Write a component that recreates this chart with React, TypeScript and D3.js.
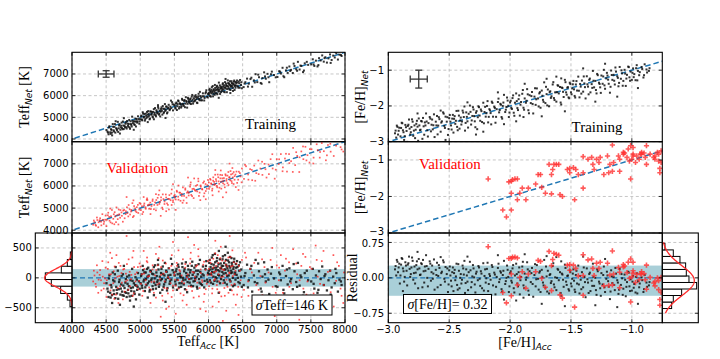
import React from "react";
import * as d3 from "d3";

type P = [number, number];

// ---------- tick labels ----------
const teffXTicks = [4000, 4500, 5000, 5500, 6000, 6500, 7000, 7500, 8000];
const teffYTicks = [4000, 5000, 6000, 7000];
const teffResTicks = [-500, 0, 500];
const fehXTicks = [-3.0, -2.5, -2.0, -1.5, -1.0];
const fehYTicks = [-3, -2, -1];
const fehResTicks = [-0.75, 0, 0.75];

// ---------- Teff training: [Teff_Acc, residual] ----------
const teffTrainA: P[] = [
  [4520,-180],[4535,-320],[4548,40],[4560,-250],[4572,-120],[4585,-290],[4597,90],[4610,-210],[4622,-60],[4635,-340],
  [4648,-150],[4660,-260],[4671,120],[4684,-190],[4696,-30],[4709,-280],[4721,-110],[4733,-230],[4746,60],[4758,-300],
  [4770,-170],[4782,-80],[4795,-250],[4807,20],[4820,-200],[4832,-140],[4844,-310],[4857,-40],[4869,-220],[4881,150],
  [4893,-160],[4906,-90],[4918,-270],[4930,10],[4943,-130],[4955,-200],[4967,80],[4980,-60],[4992,-180],[4588,-420],
  [4702,-450],[4850,-380],[4640,180],[4760,200],[4905,-480],
  [5005,-90],[5018,60],[5030,-170],[5042,130],[5055,-30],[5068,-220],[5080,90],[5092,-120],[5105,20],[5117,170],
  [5130,-60],[5142,-200],[5155,110],[5167,-10],[5180,-140],[5192,60],[5205,-80],[5217,210],[5230,-180],[5242,30],
  [5255,-40],[5267,140],[5280,-110],[5292,-250],[5305,80],[5317,-20],[5330,190],[5342,-150],[5355,40],[5367,-70],
  [5380,120],[5392,-210],[5405,0],[5417,160],[5430,-100],[5442,50],[5455,-30],[5467,230],[5480,-160],[5492,90],
  [5110,-330],[5260,300],[5370,-400],[5450,320],[5200,-290],
  [5505,40],[5518,-110],[5530,150],[5543,-30],[5555,220],[5568,-160],[5580,70],[5593,10],[5605,-90],[5618,180],
  [5630,-40],[5643,110],[5655,-190],[5668,260],[5680,30],[5693,-70],[5705,140],[5718,-20],[5730,90],[5743,-130],
  [5755,200],[5768,50],[5780,-60],[5793,170],[5805,-10],[5818,120],[5830,-150],[5843,60],[5855,230],[5868,-80],
  [5880,100],[5893,20],[5905,-120],[5918,190],[5930,40],[5943,-50],[5955,150],[5968,280],[5980,-30],[5993,80],
  [6003,120],[6012,250],[6021,-40],[6030,180],[6040,60],[6049,340],[6058,150],[6067,-100],[6076,220],[6085,90],
  [6094,400],[6103,10],[6112,170],[6121,280],[6130,-60],[6139,130],[6148,230],[6157,40],[6166,310],[6175,160],
  [6184,-20],[6193,200],[6202,100],[6211,360],[6220,70],[6229,250],[6238,-80],[6247,140],[6256,300],[6265,190],
  [6274,30],[6283,420],[6292,120],[6301,260],[6310,-30],[6319,170],[6328,80],[6337,330],[6346,210],[6355,0],
  [6364,150],[6373,270],[6382,-120],[6391,90],[6400,230],[6412,50],[6425,180],[6438,-70],[6450,120],[6463,260],
  [6476,20],[6489,-150],[6150,-250],[6250,520],[6320,-200],
  [6515,-120],[6540,80],[6565,220],[6590,-40],[6615,150],[6640,-230],[6665,40],[6690,300],[6715,-90],[6740,110],
  [6765,-180],[6790,20],[6815,260],[6840,-60],[6865,140],[6890,-270],[6915,70],[6960,-10],
  [7010,-150],[7035,90],[7060,-40],[7085,200],[7110,-260],[7135,30],[7160,-110],[7185,160],[7210,-20],[7235,-190],
  [7260,110],[7285,-70],[7310,250],[7335,-130],[7360,10],[7385,-300],[7410,80],[7460,-40],
  [7505,-60],[7528,150],[7551,-180],[7574,40],[7597,-250],[7620,110],[7643,-20],[7666,190],[7689,-120],[7712,60],
  [7735,-210],[7758,-40],[7781,120],[7804,-160],[7827,20],[7850,-90],[7873,80],[7896,-230],[7919,-30],[7950,-120],
];
const teffTrainB: P[] = [
  [4505,-90],[4528,-230],[4541,-10],[4566,-330],[4579,-160],[4603,-40],[4616,-270],[4628,60],[4655,-200],[4677,-350],
  [4690,-70],[4715,-180],[4727,30],[4740,-290],[4752,-130],[4776,-240],[4789,-20],[4801,-320],[4814,-100],[4826,-260],
  [4838,40],[4863,-170],[4875,-300],[4887,-50],[4912,-230],[4924,-120],[4937,-360],[4949,-30],[4961,-150],[4986,-280],
  [5012,30],[5024,-130],[5036,200],[5049,-60],[5061,90],[5074,-160],[5086,-20],[5099,150],[5111,-90],[5124,40],
  [5136,-230],[5149,120],[5161,-40],[5174,70],[5186,-190],[5199,180],[5211,-10],[5224,-120],[5236,90],[5249,-70],
  [5261,220],[5274,-150],[5286,20],[5299,-40],[5311,150],[5324,-200],[5336,60],[5349,-110],[5361,250],[5374,-30],
  [5386,100],[5399,-170],[5411,40],[5436,-60],[5474,130],
  [5512,-60],[5524,110],[5537,-200],[5549,60],[5561,180],[5574,-90],[5587,30],[5599,-150],[5612,240],[5624,0],
  [5637,-110],[5649,150],[5662,-30],[5674,80],[5687,-240],[5699,200],[5712,40],[5724,-80],[5737,130],[5749,-10],
  [5762,270],[5774,-140],[5787,90],[5799,-50],[5812,210],[5824,20],[5837,-180],[5849,120],[5862,-20],[5874,300],
  [5887,-100],[5912,60],[5937,-160],[5962,200],[5987,-70],
  [6007,60],[6016,300],[6025,140],[6035,-80],[6044,230],[6053,100],[6062,380],[6071,20],[6080,170],[6089,-50],
  [6098,260],[6107,130],[6116,-10],[6125,330],[6134,190],[6143,50],[6152,450],[6161,110],[6170,-90],[6179,240],
  [6188,160],[6197,30],[6206,310],[6215,200],[6224,-40],[6233,140],[6242,380],[6251,80],[6260,220],[6269,-110],
  [6278,160],[6287,290],[6296,40],[6305,200],[6314,350],[6323,-60],[6332,120],[6341,250],[6350,90],[6359,-140],
  [6368,180],[6377,320],[6386,60],[6395,-30],[6405,170],[6418,280],[6431,0],[6444,210],[6457,-90],[6480,140],
  [6528,30],[6578,-160],[6628,200],[6678,-70],[6728,240],[6778,-230],[6828,60],[6878,-30],[6928,180],[6985,-140],
  [7048,60],[7098,-200],[7148,140],[7198,-60],[7248,230],[7298,-150],[7348,40],[7398,-240],[7440,120],[7540,-100],
  [7610,-200],[7700,30],[7790,-280],[7860,150],[7940,-60],
];

// ---------- Teff validation: [Teff_Acc, residual] ----------
const teffValidA: P[] = [
  [4310,-60],[4330,40],[4352,-150],[4371,90],[4390,-30],[4412,130],[4430,-210],[4451,20],[4470,-90],[4492,170],
  [4510,-40],[4531,260],[4550,-120],[4571,60],[4590,-280],[4612,110],[4630,-10],[4651,380],[4670,-170],[4692,30],
  [4710,200],[4731,-80],[4750,140],[4771,-230],[4790,70],[4812,-40],[4830,310],[4851,-140],[4870,50],[4892,-300],
  [4910,180],[4931,-60],[4950,90],[4971,-190],[4990,240],[4800,700],[4560,420],[4680,-420],[4900,450],[4620,-350],
  [5010,-100],[5025,60],[5043,-220],[5060,150],[5078,-40],[5095,280],[5112,20],[5130,-160],[5147,100],[5165,-70],
  [5182,210],[5200,-250],[5217,40],[5235,130],[5252,-110],[5270,330],[5287,-20],[5305,180],[5322,-300],[5340,70],
  [5357,-60],[5375,240],[5392,-180],[5410,10],[5427,160],[5445,-90],[5462,380],[5480,-210],[5497,50],[5150,-420],
  [5280,520],[5420,-480],[5050,450],[5330,-380],[5460,-320],[5230,400],[5380,-520],[5100,340],[5480,600],[5300,-650],
  [5505,90],[5520,-130],[5538,200],[5555,-40],[5572,130],[5590,-260],[5607,40],[5625,310],[5642,-90],[5660,170],
  [5677,-200],[5695,60],[5712,-20],[5730,240],[5747,-150],[5765,100],[5782,-330],[5800,20],[5817,190],[5835,-80],
  [5852,360],[5870,-170],[5887,80],[5905,-40],[5922,220],[5940,-270],[5957,130],[5975,-100],[5992,280],[5560,460],
  [5680,-450],[5790,550],[5880,-520],[5620,-380],[5740,420],[5930,-400],[5850,480],[5520,-600],[5700,680],[5960,-560],
  [6005,150],[6018,-60],[6031,250],[6044,40],[6057,-180],[6070,320],[6083,100],[6096,-20],[6109,200],[6122,-120],
  [6135,380],[6148,60],[6161,-240],[6174,170],[6187,10],[6200,290],[6213,-90],[6226,130],[6239,-300],[6252,220],
  [6265,50],[6278,-150],[6291,340],[6304,80],[6317,-60],[6330,190],[6343,-210],[6356,30],[6369,260],[6382,-100],
  [6395,120],[6420,-280],[6445,200],[6470,-40],[6490,300],[6060,-480],[6180,520],[6260,-550],[6350,460],[6100,620],
  [6440,-620],[6210,-720],[6310,700],[6400,-450],[6150,-400],
  [6520,-200],[6550,340],[6580,-60],[6610,150],[6640,-380],[6670,250],[6700,-120],[6730,420],[6760,30],[6790,-290],
  [6820,180],[6850,-470],[6880,90],[6910,300],[6940,-150],[6970,-640],[7000,210],[7030,-40],[7060,380],[7090,-250],
  [7120,120],[7150,-500],[7180,260],[7210,-90],[7240,480],[7270,-330],[7300,60],[7330,-700],[7360,200],[7390,-180],
  [7420,350],[7450,-60],[7480,-420],[7510,150],[7540,-260],[7570,540],[7600,20],[7630,-350],[7660,280],[7690,-120],
  [7720,-560],[7750,100],[7790,-240],[7830,380],[7870,-50],[7910,200],[7950,-300],[7985,90],
];
const teffValidB: P[] = [
  [4320,120],[4345,-100],[4365,210],[4385,-250],[4405,50],[4425,-40],[4445,280],[4465,-180],[4485,-10],[4505,-320],
  [4525,150],[4545,60],[4565,-210],[4585,330],[4605,-90],[4625,190],[4645,-280],[4665,20],[4685,250],[4705,-140],
  [4725,80],[4745,-360],[4765,150],[4785,-60],[4805,230],[4825,-200],[4845,100],[4865,-20],[4885,340],[4905,-260],
  [4925,60],[4945,-130],[4965,180],[4985,-50],
  [5005,190],[5030,-300],[5055,70],[5080,-110],[5105,260],[5130,30],[5155,-200],[5180,140],[5205,-60],[5230,-330],
  [5255,210],[5280,-90],[5305,50],[5330,290],[5355,-170],[5380,100],[5405,-260],[5430,-20],[5455,200],[5480,-130],
  [5510,-30],[5535,250],[5560,-180],[5585,110],[5610,-60],[5635,-290],[5660,230],[5685,10],[5710,-140],[5735,320],
  [5760,-220],[5785,90],[5810,-30],[5835,210],[5860,-310],[5885,140],[5910,-70],[5935,270],[5960,-190],[5985,50],
  [6008,-140],[6023,300],[6038,80],[6053,-260],[6068,170],[6083,-40],[6098,410],[6113,110],[6128,-190],[6143,250],
  [6158,-60],[6173,330],[6188,-310],[6203,140],[6218,20],[6233,-170],[6248,280],[6263,-30],[6278,190],[6293,-250],
  [6308,90],[6323,350],[6338,-120],[6353,200],[6368,-280],[6383,60],[6410,240],[6435,-150],[6460,120],[6485,-320],
  [6535,420],[6585,-300],[6635,90],[6685,-450],[6735,-200],[6785,310],[6835,-80],[6885,-350],[6935,500],[6985,-250],
  [7035,170],[7085,-420],[7135,320],[7185,-150],[7235,-600],[7285,240],[7335,-40],[7385,400],[7435,-280],[7485,180],
  [7535,-520],[7585,300],[7635,-100],[7685,450],[7735,-350],[7785,120],[7835,-480],[7885,260],[7935,-180],[7975,-420],
];

// ---------- [Fe/H] training: [FeH_Acc, residual] ----------
const fehTrainA: P[] = [
  [-2.94,0.25],[-2.93,0.38],[-2.92,0.12],[-2.91,0.30],[-2.90,0.05],[-2.89,0.42],[-2.88,0.20],[-2.87,-0.08],[-2.86,0.33],[-2.85,0.15],
  [-2.84,0.28],[-2.83,0.45],[-2.82,0.02],[-2.81,0.22],[-2.80,0.36],[-2.79,0.10],[-2.78,-0.12],[-2.77,0.27],[-2.76,0.18],[-2.75,0.40],
  [-2.74,0.06],[-2.73,0.31],[-2.72,-0.20],[-2.71,0.14],[-2.70,0.24],[-2.69,0.48],[-2.68,0.00],[-2.67,0.19],[-2.66,0.35],[-2.65,-0.06],
  [-2.64,0.26],[-2.63,0.09],[-2.62,-0.25],[-2.61,0.17],[-2.60,0.32],[-2.59,0.04],[-2.58,0.21],[-2.57,-0.15],[-2.56,0.13],[-2.55,0.37],
  [-2.54,-0.02],[-2.53,0.23],[-2.52,0.08],[-2.51,-0.30],[-2.50,0.16],[-2.88,-0.28],[-2.76,0.55],[-2.66,-0.38],[-2.57,0.44],[-2.53,-0.42],
  [-2.49,0.05],[-2.48,-0.18],[-2.47,0.22],[-2.46,0.10],[-2.45,-0.05],[-2.44,0.30],[-2.43,-0.25],[-2.42,0.15],[-2.41,0.00],[-2.40,-0.12],
  [-2.39,0.26],[-2.38,0.07],[-2.37,-0.32],[-2.36,0.18],[-2.35,-0.08],[-2.34,0.12],[-2.33,0.34],[-2.32,-0.20],[-2.31,0.03],[-2.30,0.20],
  [-2.29,-0.14],[-2.28,0.09],[-2.27,-0.38],[-2.26,0.25],[-2.25,-0.02],[-2.24,0.14],[-2.23,-0.22],[-2.22,0.31],[-2.21,0.04],[-2.20,-0.10],
  [-2.19,0.19],[-2.18,-0.28],[-2.17,0.08],[-2.16,-0.04],[-2.15,0.27],[-2.14,-0.16],[-2.13,0.11],[-2.12,-0.35],[-2.11,0.02],[-2.10,0.21],
  [-2.09,-0.09],[-2.08,0.14],[-2.07,-0.24],[-2.06,0.06],[-2.05,0.36],[-2.04,-0.13],[-2.03,0.00],[-2.02,0.17],[-2.01,-0.30],[-2.00,0.10],
  [-2.35,0.45],[-2.22,-0.50],[-2.10,0.48],[-2.28,-0.52],[-2.05,-0.46],
  [-1.99,-0.06],[-1.98,0.20],[-1.97,-0.22],[-1.96,0.05],[-1.95,0.30],[-1.94,-0.12],[-1.93,0.12],[-1.92,-0.35],[-1.91,0.02],[-1.90,0.24],
  [-1.89,-0.16],[-1.88,0.09],[-1.87,-0.04],[-1.86,0.33],[-1.85,-0.27],[-1.84,0.14],[-1.83,-0.09],[-1.82,0.21],[-1.81,-0.40],[-1.80,0.06],
  [-1.79,-0.18],[-1.78,0.27],[-1.77,-0.02],[-1.76,0.11],[-1.75,-0.30],[-1.74,0.17],[-1.73,-0.10],[-1.72,0.38],[-1.71,-0.21],[-1.70,0.03],
  [-1.69,0.15],[-1.68,-0.33],[-1.67,0.08],[-1.66,-0.07],[-1.65,0.25],[-1.64,-0.14],[-1.63,0.01],[-1.62,-0.26],[-1.61,0.19],[-1.60,-0.05],
  [-1.59,0.12],[-1.58,-0.38],[-1.57,0.07],[-1.56,-0.19],[-1.55,0.28],[-1.54,-0.08],[-1.53,0.04],[-1.52,-0.24],[-1.51,0.16],[-1.50,-0.12],
  [-1.88,0.50],[-1.74,-0.55],[-1.62,0.44],[-1.95,-0.48],[-1.55,-0.60],
  [-1.49,-0.02],[-1.48,0.18],[-1.47,-0.25],[-1.46,0.06],[-1.45,-0.12],[-1.44,0.26],[-1.43,-0.33],[-1.42,-0.04],[-1.41,0.12],[-1.40,-0.20],
  [-1.39,0.02],[-1.38,-0.41],[-1.37,0.20],[-1.36,-0.10],[-1.35,0.08],[-1.34,-0.28],[-1.33,-0.06],[-1.32,0.30],[-1.31,-0.17],[-1.30,0.00],
  [-1.29,-0.36],[-1.28,0.14],[-1.27,-0.08],[-1.26,-0.22],[-1.25,0.10],[-1.24,-0.14],[-1.23,0.24],[-1.22,-0.30],[-1.21,-0.02],[-1.20,0.05],
  [-1.19,-0.19],[-1.18,-0.45],[-1.17,0.16],[-1.16,-0.11],[-1.15,0.02],[-1.14,-0.26],[-1.13,0.09],[-1.12,-0.05],[-1.11,-0.34],[-1.10,0.19],
  [-1.09,-0.15],[-1.08,-0.01],[-1.07,-0.23],[-1.06,0.07],[-1.05,-0.39],[-1.04,-0.09],[-1.03,0.13],[-1.02,-0.18],[-1.01,-0.03],[-1.00,-0.27],
  [-0.99,0.04],[-0.98,-0.13],[-0.97,-0.31],[-0.96,0.10],[-0.95,-0.07],[-0.94,-0.20],[-0.92,0.01],[-0.90,-0.24],[-0.88,-0.10],[-0.86,-0.16],
  [-1.30,-0.58],[-1.12,-0.62],[-1.40,0.45],[-1.22,0.40],[-0.95,-0.55],
];
const fehTrainB: P[] = [
  [-2.945,0.18],[-2.935,0.05],[-2.925,0.34],[-2.915,0.22],[-2.905,-0.12],[-2.895,0.28],[-2.885,0.40],[-2.875,0.14],[-2.865,0.02],[-2.855,0.26],
  [-2.845,-0.16],[-2.835,0.31],[-2.825,0.19],[-2.815,0.08],[-2.805,0.43],[-2.795,-0.04],[-2.785,0.24],[-2.775,0.11],[-2.765,0.35],[-2.755,-0.22],
  [-2.745,0.20],[-2.735,0.07],[-2.725,0.29],[-2.715,0.38],[-2.705,-0.10],[-2.695,0.15],[-2.685,0.25],[-2.675,-0.18],[-2.655,0.30],[-2.645,0.12],
  [-2.635,-0.02],[-2.625,0.39],[-2.605,0.06],[-2.595,-0.20],[-2.585,0.27],[-2.565,0.10],[-2.545,0.33],[-2.535,-0.08],[-2.515,0.20],[-2.505,-0.14],
  [-2.495,0.24],[-2.485,-0.06],[-2.475,0.12],[-2.465,-0.28],[-2.455,0.17],[-2.445,0.03],[-2.435,-0.15],[-2.425,0.29],[-2.415,-0.22],[-2.405,0.08],
  [-2.395,-0.04],[-2.385,0.20],[-2.375,0.36],[-2.365,-0.11],[-2.355,0.05],[-2.345,-0.26],[-2.325,0.16],[-2.315,-0.09],[-2.305,0.27],[-2.295,0.01],
  [-2.285,-0.31],[-2.275,0.13],[-2.265,-0.05],[-2.255,0.22],[-2.245,-0.17],[-2.235,0.09],[-2.215,-0.27],[-2.205,0.18],[-2.195,-0.01],[-2.185,0.32],
  [-2.175,-0.13],[-2.165,0.04],[-2.155,-0.36],[-2.145,0.23],[-2.125,0.07],[-2.115,-0.19],[-2.095,0.30],[-2.085,-0.03],[-2.075,0.11],[-2.065,-0.29],
  [-2.055,0.15],[-2.035,-0.07],[-2.025,0.26],[-2.015,0.02],[-2.005,-0.18],
  [-1.995,0.14],[-1.985,-0.10],[-1.975,0.27],[-1.965,-0.31],[-1.945,0.08],[-1.935,-0.18],[-1.925,0.22],[-1.915,-0.05],[-1.895,0.34],[-1.885,-0.22],
  [-1.865,0.01],[-1.855,0.18],[-1.845,-0.36],[-1.825,0.10],[-1.815,-0.13],[-1.795,0.29],[-1.785,-0.03],[-1.765,-0.25],[-1.755,0.14],[-1.735,0.02],
  [-1.725,-0.16],[-1.705,0.24],[-1.695,-0.29],[-1.675,0.06],[-1.665,-0.11],[-1.645,0.31],[-1.635,-0.20],[-1.615,0.00],[-1.605,0.17],[-1.585,-0.32],
  [-1.575,0.09],[-1.565,-0.04],[-1.545,0.21],[-1.535,-0.15],[-1.525,0.05],[-1.515,-0.27],[-1.505,0.12],[-1.89,-0.42],[-1.70,0.46],[-1.58,0.35],
  [-1.495,-0.18],[-1.485,0.09],[-1.475,-0.06],[-1.465,-0.30],[-1.455,0.15],[-1.435,-0.14],[-1.425,0.04],[-1.415,-0.24],[-1.395,0.22],[-1.385,-0.09],
  [-1.365,-0.03],[-1.355,-0.32],[-1.345,0.11],[-1.325,-0.17],[-1.315,0.02],[-1.295,-0.26],[-1.285,0.18],[-1.265,-0.12],[-1.255,-0.38],[-1.235,0.06],
  [-1.225,-0.20],[-1.205,0.13],[-1.195,-0.07],[-1.175,-0.29],[-1.165,0.03],[-1.145,-0.15],[-1.135,0.21],[-1.115,-0.10],[-1.105,-0.25],[-1.085,0.08],
  [-1.075,-0.36],[-1.055,-0.04],[-1.045,-0.19],[-1.025,0.11],[-1.015,-0.28],[-0.995,-0.08],[-0.985,-0.21],[-0.965,0.02],[-0.955,-0.33],[-0.935,-0.12],
  [-0.915,-0.05],[-0.905,-0.30],[-0.895,0.06],[-0.875,-0.19],[-0.855,-0.09],
];

// ---------- [Fe/H] validation: [FeH_Acc, FeH_Net] ----------
const fehValid: P[] = [
  [-2.18,-1.52],[-2.06,-2.37],[-2.03,-2.56],[-1.99,-2.37],[-2.01,-1.60],[-1.99,-1.58],[-1.98,-1.54],[-1.96,-1.52],[-1.94,-1.52],[-1.99,-1.91],
  [-1.94,-2.09],[-1.90,-1.77],[-1.92,-1.91],[-1.87,-2.09],[-1.85,-1.77],[-1.79,-1.66],[-1.77,-1.40],[-1.75,-1.40],[-1.74,-1.75],[-1.71,-1.91],
  [-1.68,-1.12],[-1.66,-1.40],[-1.65,-1.26],[-1.64,-1.12],[-1.62,-1.12],[-1.60,-1.12],[-1.66,-1.93],[-1.59,-1.95],[-1.57,-2.00],[-1.53,-1.26],
  [-1.51,-1.35],[-1.51,-1.23],[-1.48,-1.21],[-1.47,-2.09],[-1.46,-1.26],[-1.44,-1.40],[-1.40,-0.91],[-1.40,-1.35],[-1.40,-1.77],[-1.36,-0.98],
  [-1.33,-0.93],[-1.32,-1.12],[-1.31,-1.26],[-1.29,-0.98],[-1.27,-1.07],[-1.26,-0.93],[-1.23,-1.40],[-1.20,-0.89],[-1.19,-1.35],[-1.16,-1.31],
  [-1.15,-1.07],[-1.11,-0.89],[-1.10,-1.31],[-1.07,-0.84],[-1.04,-0.93],[-1.02,-1.03],[-1.01,-1.52],[-1.00,-0.98],[-0.99,-0.84],[-0.97,-1.07],
  [-0.96,-0.89],[-0.94,-0.98],[-0.93,-0.84],[-0.92,-0.79],[-0.89,-0.93],[-0.88,-1.12],[-0.85,-0.84],[-0.82,-0.93],[-0.81,-0.98],[-0.79,-0.79],
  [-0.78,-1.03],[-0.77,-1.35],[-0.76,-0.75],[-0.76,-1.07],[-0.77,-1.23],[-1.01,-0.61],[-0.99,-0.66],[-0.92,-0.84],[-0.90,-0.81],[-0.88,-0.61],
  [-1.16,-0.59],[-1.10,-0.98],[-1.18,-1.12],[-1.07,-0.79],[-0.99,-0.89],[-1.06,-0.81],[-0.81,-0.89],[-0.78,-0.84],[-1.03,-0.70],
];

// ---------- residual histograms ----------
const teffHistEdges = [-483, -372, -261, -139, -28, 83, 194, 306, 433];
const teffHistCounts = [6, 14, 34, 62, 80, 32, 14, 5];
const fehHistEdges = [-0.65, -0.512, -0.374, -0.236, -0.098, 0.04, 0.178, 0.316, 0.454, 0.592, 0.73];
const fehHistCounts = [28, 33, 58, 103, 80, 72, 70, 53, 33, 8];

// fitted gaussians: [mean, sigma, peak]
const teffFit = [0, 146, 82];
const fehFit = [-0.06, 0.32, 96];

// typical uncertainties: [x, y, xerr, yerr]
const teffErr = [4500, 7000, 115, 150];
const fehErr = [-2.75, -1.25, 0.07, 0.25];

const SERIF = "'Liberation Serif', 'DejaVu Serif', serif";
const SANS = "'DejaVu Sans', sans-serif";
const BLUE = "#1f77b4";
const GRID = "#b8b8b8";

type Scale = d3.ScaleLinear<number, number>;

function Panel(props: {
  id: string; xs: Scale; ys: Scale; xTicks: number[]; yTicks: number[];
  xSides?: ("t" | "b")[]; ySides?: ("l" | "r")[]; children?: any;
}) {
  const { id, xs, ys, xTicks, yTicks, children } = props;
  const xSides = props.xSides ?? ["t", "b"];
  const ySides = props.ySides ?? ["l", "r"];
  const [x0, x1] = xs.range();
  const [y1, y0] = ys.range();
  const L = Math.min(x0, x1), R = Math.max(x0, x1);
  const T = Math.min(y0, y1), B = Math.max(y0, y1);
  const tl = 3.5;
  return (
    <g>
      <clipPath id={id}>
        <rect x={L} y={T} width={R - L} height={B - T} />
      </clipPath>
      {xTicks.map((t) => (
        <line key={"gx" + t} x1={xs(t)} x2={xs(t)} y1={T} y2={B} stroke={GRID} strokeWidth={0.8} strokeDasharray="3,2.5" />
      ))}
      {yTicks.map((t) => (
        <line key={"gy" + t} x1={L} x2={R} y1={ys(t)} y2={ys(t)} stroke={GRID} strokeWidth={0.8} strokeDasharray="3,2.5" />
      ))}
      <g clipPath={`url(#${id})`}>{children}</g>
      {xTicks.map((t) => (
        <g key={"tx" + t}>
          {xSides.includes("b") && <line x1={xs(t)} x2={xs(t)} y1={B} y2={B - tl} stroke="#000" strokeWidth={0.8} />}
          {xSides.includes("t") && <line x1={xs(t)} x2={xs(t)} y1={T} y2={T + tl} stroke="#000" strokeWidth={0.8} />}
        </g>
      ))}
      {yTicks.map((t) => (
        <g key={"ty" + t}>
          {ySides.includes("l") && <line x1={L} x2={L + tl} y1={ys(t)} y2={ys(t)} stroke="#000" strokeWidth={0.8} />}
          {ySides.includes("r") && <line x1={R} x2={R - tl} y1={ys(t)} y2={ys(t)} stroke="#000" strokeWidth={0.8} />}
        </g>
      ))}
      <rect x={L} y={T} width={R - L} height={B - T} fill="none" stroke="#000" strokeWidth={1.1} />
    </g>
  );
}

const fmtMinus = (s: string) => s.replace("-", "\u2212");

function Squares({ pts, xs, ys, size, fill, op }: { pts: P[]; xs: Scale; ys: Scale; size: number; fill: string; op: number }) {
  return (
    <g fill={fill} fillOpacity={op}>
      {pts.map((p, i) => (
        <rect key={i} x={xs(p[0]) - size / 2} y={ys(p[1]) - size / 2} width={size} height={size} />
      ))}
    </g>
  );
}

function Pluses({ pts, xs, ys }: { pts: P[]; xs: Scale; ys: Scale }) {
  const s = 2.6;
  return (
    <g stroke="#ff3030" strokeOpacity={0.8} strokeWidth={1.6}>
      {pts.map((p, i) => {
        const x = xs(p[0]), y = ys(p[1]);
        return <path key={i} d={`M${x - s},${y}H${x + s}M${x},${y - s}V${y + s}`} />;
      })}
    </g>
  );
}

function ErrBar({ e, xs, ys }: { e: number[]; xs: Scale; ys: Scale }) {
  const [x, y, dx, dy] = e;
  const cx = xs(x), cy = ys(y), xa = xs(x - dx), xb = xs(x + dx), ya = ys(y - dy), yb = ys(y + dy);
  const c = 3.5;
  return (
    <g stroke="#333" strokeWidth={1.3}>
      <line x1={xa} x2={xb} y1={cy} y2={cy} />
      <line x1={cx} x2={cx} y1={ya} y2={yb} />
      <line x1={xa} x2={xa} y1={cy - c} y2={cy + c} />
      <line x1={xb} x2={xb} y1={cy - c} y2={cy + c} />
      <line x1={cx - c} x2={cx + c} y1={ya} y2={ya} />
      <line x1={cx - c} x2={cx + c} y1={yb} y2={yb} />
    </g>
  );
}

export default function App() {
  const rows = [[52.3, 141.7], [141.7, 233], [233, 322.7]];
  const LX = [72, 345], LH = 35.3;
  const RX = [388.3, 662.3], RH = 698.3;

  const xT = d3.scaleLinear().domain([4000, 8000]).range(LX);
  const yT1 = d3.scaleLinear().domain([3875, 8000]).range([rows[0][1], rows[0][0]]);
  const yT2 = d3.scaleLinear().domain([3875, 8000]).range([rows[1][1], rows[1][0]]);
  const yTR = d3.scaleLinear().domain([-750, 750]).range([rows[2][1], rows[2][0]]);
  const hxT = d3.scaleLinear().domain([0, 110]).range([LX[0], LH]);

  const xF = d3.scaleLinear().domain([-3, -0.75]).range(RX);
  const yF1 = d3.scaleLinear().domain([-3, -0.5]).range([rows[0][1], rows[0][0]]);
  const yF2 = d3.scaleLinear().domain([-3, -0.5]).range([rows[1][1], rows[1][0]]);
  const yFR = d3.scaleLinear().domain([-0.95, 0.95]).range([rows[2][1], rows[2][0]]);
  const hxF = d3.scaleLinear().domain([0, 108]).range([RX[1], RH]);

  const teffTrain = [...teffTrainA, ...teffTrainB];
  const teffValid = [...teffValidA, ...teffValidB];
  const fehTrain = [...fehTrainA, ...fehTrainB];

  const teffTrainNet: P[] = teffTrain.map((p) => [p[0], p[0] + p[1]]);
  const teffValidNet: P[] = teffValid.map((p) => [p[0], p[0] + p[1]]);
  const fehTrainNet: P[] = fehTrain.map((p) => [p[0], p[0] + p[1]]);
  const fehValidRes: P[] = fehValid.map((p) => [p[0], p[1] - p[0]]);

  const oneToOne = (xs: Scale, ys: Scale, d: number[]) => (
    <line x1={xs(d[0])} y1={ys(d[0])} x2={xs(d[1])} y2={ys(d[1])} stroke={BLUE} strokeWidth={1.5} strokeDasharray="5.5,3" />
  );

  const gauss = (fit: number[], lo: number, hi: number, hx: Scale, ys: Scale) => {
    const [m, s, a] = fit;
    const vals = d3.range(lo, hi + (hi - lo) / 200, (hi - lo) / 200);
    const line = d3.line<number>().x((v) => hx(a * Math.exp(-0.5 * ((v - m) / s) ** 2))).y((v) => ys(v));
    return <path d={line(vals) || ""} fill="none" stroke="#ff2a2a" strokeWidth={1.3} />;
  };

  const subLabel = (main: string, sub: string, tail: string) => (
    <>
      {main}
      <tspan fontFamily={SANS} fontStyle="italic" fontSize={9} dy={3}>{sub}</tspan>
      <tspan dy={-3}>{tail}</tspan>
    </>
  );

  return (
    <svg width={720} height={359} style={{ position: "absolute", left: 0, top: 0, background: "#fff" }}>
      <rect width={720} height={359} fill="#fff" />

      {/* ===== Left column: Teff ===== */}
      <Panel id="c1" xs={xT} ys={yT1} xTicks={teffXTicks} yTicks={teffYTicks}>
        {oneToOne(xT, yT1, [3800, 8200])}
        <Squares pts={teffTrainNet} xs={xT} ys={yT1} size={2} fill="#111" op={0.85} />
      </Panel>
      <ErrBar e={teffErr} xs={xT} ys={yT1} />
      <text x={245} y={128.5} fontFamily={SERIF} fontSize={15}>Training</text>

      <Panel id="c2" xs={xT} ys={yT2} xTicks={teffXTicks} yTicks={teffYTicks}>
        {oneToOne(xT, yT2, [3800, 8200])}
        <Squares pts={teffValidNet} xs={xT} ys={yT2} size={1.7} fill="#ff1a1a" op={0.7} />
      </Panel>
      <text x={106.5} y={172.5} fontFamily={SERIF} fontSize={15} fill="#ff0000">Validation</text>

      <Panel id="c3" xs={xT} ys={yTR} xTicks={teffXTicks} yTicks={teffResTicks}>
        <rect x={LX[0]} width={LX[1] - LX[0]} y={yTR(teffFit[0] + teffFit[1])}
          height={yTR(teffFit[0] - teffFit[1]) - yTR(teffFit[0] + teffFit[1])} fill="#a9cfd8" />
        <line x1={LX[0]} x2={LX[1]} y1={yTR(0)} y2={yTR(0)} stroke={BLUE} strokeWidth={1.2} strokeDasharray="5,3" />
        <Squares pts={teffTrain} xs={xT} ys={yTR} size={2.3} fill="#111" op={0.85} />
        <Squares pts={teffValid} xs={xT} ys={yTR} size={1.7} fill="#ff1a1a" op={0.75} />
      </Panel>
      <rect x={252} y={295} width={80} height={20} fill="#fff" stroke="#000" strokeWidth={1} />
      <text x={292} y={310} textAnchor="middle" fontFamily={SERIF} fontSize={14}>
        <tspan fontStyle="italic">σ</tspan>Teff=146 K
      </text>

      {/* left histogram */}
      <Panel id="h1" xs={hxT} ys={yTR} xTicks={[]} yTicks={teffResTicks} ySides={["l"]}>
        {teffHistCounts.map((c, i) => (
          <rect key={i} x={hxT(c)} width={hxT(0) - hxT(c)} y={yTR(teffHistEdges[i + 1])}
            height={yTR(teffHistEdges[i]) - yTR(teffHistEdges[i + 1])} fill="#fff" stroke="#000" strokeWidth={1} />
        ))}
        {gauss(teffFit, -470, 440, hxT, yTR)}
      </Panel>

      {/* left tick labels */}
      <g fontFamily={SANS} fontSize={10} fill="#000">
        {teffYTicks.map((t) => (
          <text key={"a" + t} x={68.5} y={yT1(t)} dy="0.35em" textAnchor="end">{t}</text>
        ))}
        {teffYTicks.map((t) => (
          <text key={"b" + t} x={68.5} y={yT2(t)} dy="0.35em" textAnchor="end">{t}</text>
        ))}
        {teffResTicks.map((t) => (
          <text key={"c" + t} x={31.8} y={yTR(t)} dy="0.35em" textAnchor="end">{fmtMinus(String(t))}</text>
        ))}
        {teffXTicks.map((t) => (
          <text key={"d" + t} x={xT(t)} y={333} textAnchor="middle">{t}</text>
        ))}
      </g>
      <text transform={`translate(29,${(rows[0][0] + rows[0][1]) / 2}) rotate(-90)`} textAnchor="middle" fontFamily={SERIF} fontSize={14}>
        {subLabel("Teff", "Net", " [K]")}
      </text>
      <text transform={`translate(29,${(rows[1][0] + rows[1][1]) / 2}) rotate(-90)`} textAnchor="middle" fontFamily={SERIF} fontSize={14}>
        {subLabel("Teff", "Net", " [K]")}
      </text>
      <text x={208} y={346} textAnchor="middle" fontFamily={SERIF} fontSize={14}>
        {subLabel("Teff", "Acc", " [K]")}
      </text>

      {/* ===== Right column: [Fe/H] ===== */}
      <Panel id="c4" xs={xF} ys={yF1} xTicks={fehXTicks} yTicks={fehYTicks}>
        {oneToOne(xF, yF1, [-3.1, -0.6])}
        <Squares pts={fehTrainNet} xs={xF} ys={yF1} size={2} fill="#111" op={0.85} />
      </Panel>
      <ErrBar e={fehErr} xs={xF} ys={yF1} />
      <text x={571.5} y={131.5} fontFamily={SERIF} fontSize={15}>Training</text>

      <Panel id="c5" xs={xF} ys={yF2} xTicks={fehXTicks} yTicks={fehYTicks}>
        {oneToOne(xF, yF2, [-3.1, -0.6])}
        <Pluses pts={fehValid} xs={xF} ys={yF2} />
      </Panel>
      <text x={419} y={169} fontFamily={SERIF} fontSize={15} fill="#ff0000">Validation</text>

      <Panel id="c6" xs={xF} ys={yFR} xTicks={fehXTicks} yTicks={fehResTicks}>
        <rect x={RX[0]} width={RX[1] - RX[0]} y={yFR(fehFit[0] + fehFit[1])}
          height={yFR(fehFit[0] - fehFit[1]) - yFR(fehFit[0] + fehFit[1])} fill="#a9cfd8" />
        <line x1={RX[0]} x2={RX[1]} y1={yFR(0)} y2={yFR(0)} stroke={BLUE} strokeWidth={1.2} strokeDasharray="5,3" />
        <Squares pts={fehTrain} xs={xF} ys={yFR} size={2} fill="#111" op={0.85} />
        <Pluses pts={fehValidRes} xs={xF} ys={yFR} />
      </Panel>
      <rect x={403.5} y={294.5} width={88} height={19} fill="#fff" stroke="#000" strokeWidth={1} />
      <text x={447.5} y={309} textAnchor="middle" fontFamily={SERIF} fontSize={14}>
        <tspan fontStyle="italic">σ</tspan>[Fe/H]= 0.32
      </text>

      {/* right histogram */}
      <Panel id="h2" xs={hxF} ys={yFR} xTicks={[]} yTicks={fehResTicks} ySides={["r"]}>
        {fehHistCounts.map((c, i) => (
          <rect key={i} x={hxF(0)} width={hxF(c) - hxF(0)} y={yFR(fehHistEdges[i + 1])}
            height={yFR(fehHistEdges[i]) - yFR(fehHistEdges[i + 1])} fill="#fff" stroke="#000" strokeWidth={1} />
        ))}
        {gauss(fehFit, -0.75, 0.75, hxF, yFR)}
      </Panel>

      {/* right tick labels */}
      <g fontFamily={SANS} fontSize={10} fill="#000">
        {fehYTicks.map((t) => (
          <text key={"a" + t} x={384} y={yF1(t)} dy="0.35em" textAnchor="end">{fmtMinus(String(t))}</text>
        ))}
        {fehYTicks.map((t) => (
          <text key={"b" + t} x={384} y={yF2(t) - (t === -3 ? 1.5 : 0)} dy="0.35em" textAnchor="end">{fmtMinus(String(t))}</text>
        ))}
        {fehResTicks.map((t) => (
          <text key={"c" + t} x={384} y={yFR(t) + (t === 0.75 ? 1 : 0)} dy="0.35em" textAnchor="end">{fmtMinus(t.toFixed(2))}</text>
        ))}
        {fehXTicks.map((t) => (
          <text key={"d" + t} x={xF(t)} y={333} textAnchor="middle">{fmtMinus(t.toFixed(1))}</text>
        ))}
      </g>
      <text transform={`translate(365,${(rows[0][0] + rows[0][1]) / 2}) rotate(-90)`} textAnchor="middle" fontFamily={SERIF} fontSize={14}>
        {subLabel("[Fe/H]", "Net", "")}
      </text>
      <text transform={`translate(365,${(rows[1][0] + rows[1][1]) / 2}) rotate(-90)`} textAnchor="middle" fontFamily={SERIF} fontSize={14}>
        {subLabel("[Fe/H]", "Net", "")}
      </text>
      <text transform={`translate(357,${(rows[2][0] + rows[2][1]) / 2}) rotate(-90)`} textAnchor="middle" fontFamily={SERIF} fontSize={14}>
        Residual
      </text>
      <text x={525} y={347} textAnchor="middle" fontFamily={SERIF} fontSize={14}>
        {subLabel("[Fe/H]", "Acc", "")}
      </text>
    </svg>
  );
}
